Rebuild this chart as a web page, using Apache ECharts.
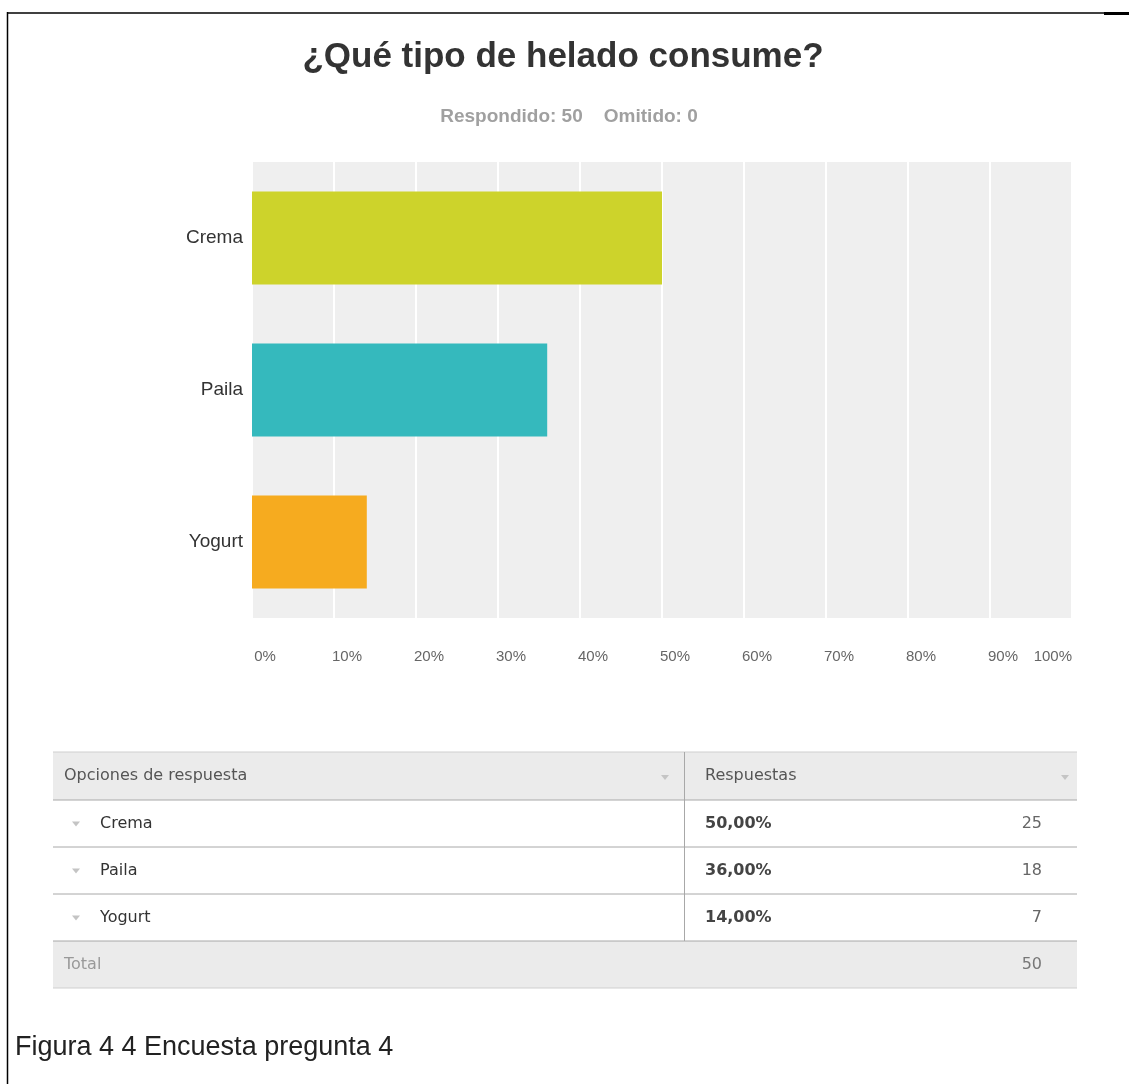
<!DOCTYPE html>
<html>
<head>
<meta charset="utf-8">
<script src="https://cdn.jsdelivr.net/npm/echarts@6/dist/echarts.min.js"></script>
<style>
  html, body { margin: 0; padding: 0; background: #fff; }
  #chart { width: 1129px; height: 1084px; }
</style>
</head>
<body>
<div id="chart"></div>
<script>
// Survey question 4: type of ice cream consumed
const categories = ['Crema', 'Paila', 'Yogurt'];
const percents = [50, 36, 14];
const counts = [25, 18, 7];
const barColors = ['#cdd32b', '#35b9bd', '#f6ab1f'];
const tickLabels = ['0%', '10%', '20%', '30%', '40%', '50%', '60%', '70%', '80%', '90%', '100%'];
const answered = 50;
const skipped = 0;
const totalCount = 50;

const chart = echarts.init(document.getElementById('chart'), null, { renderer: 'canvas' });

// Summary table below the chart
const T = { x0: 53, x1: 1077, xSep: 684, top: 752, rowH: 47, headH: 48 };
const tableFont = '"DejaVu Sans", Verdana, sans-serif';
const graphics = [];

// page frame
graphics.push({ type: 'line', shape: { x1: 7, y1: 13, x2: 1105, y2: 13 }, style: { stroke: '#000', lineWidth: 1.5 } });
graphics.push({ type: 'line', shape: { x1: 1104, y1: 13.5, x2: 1129, y2: 13.5 }, style: { stroke: '#000', lineWidth: 3 } });
graphics.push({ type: 'line', shape: { x1: 7.5, y1: 12, x2: 7.5, y2: 1084 }, style: { stroke: '#000', lineWidth: 1.5 } });

function tri(cx, cy) {
  return { type: 'polygon', shape: { points: [[cx - 4, cy - 2], [cx + 4, cy - 2], [cx, cy + 3]] }, style: { fill: '#c4c4c4' } };
}

// header
const headBottom = T.top + T.headH;
graphics.push({ type: 'rect', shape: { x: T.x0, y: T.top, width: T.x1 - T.x0, height: T.headH }, style: { fill: '#ebebeb' } });
graphics.push({ type: 'text', style: { x: 64, y: T.top + T.headH / 2, text: 'Opciones de respuesta', fill: '#555', font: '16px ' + tableFont, verticalAlign: 'middle' } });
graphics.push({ type: 'text', style: { x: 705, y: T.top + T.headH / 2, text: 'Respuestas', fill: '#555', font: '16px ' + tableFont, verticalAlign: 'middle' } });
graphics.push(tri(665, T.top + T.headH / 2 + 1));
graphics.push(tri(1065, T.top + T.headH / 2 + 1));
graphics.push({ type: 'line', shape: { x1: T.x0, y1: T.top, x2: T.x1, y2: T.top }, style: { stroke: '#cfcfcf', lineWidth: 1 } });

// answer rows
categories.forEach(function (name, i) {
  const y = headBottom + i * T.rowH;
  const cy = y + T.rowH / 2;
  graphics.push({ type: 'line', shape: { x1: T.x0, y1: y, x2: T.x1, y2: y }, style: { stroke: '#a8a8a8', lineWidth: 1 } });
  graphics.push(tri(76, cy));
  graphics.push({ type: 'text', style: { x: 100, y: cy, text: name, fill: '#333', font: '500 16px ' + tableFont, verticalAlign: 'middle' } });
  graphics.push({ type: 'text', style: { x: 705, y: cy, text: percents[i].toFixed(2).replace('.', ',') + '%', fill: '#444', font: 'bold 16px ' + tableFont, verticalAlign: 'middle' } });
  graphics.push({ type: 'text', style: { x: 1042, y: cy, text: String(counts[i]), fill: '#666', font: '16px ' + tableFont, align: 'right', verticalAlign: 'middle' } });
});

// total row
const totTop = headBottom + categories.length * T.rowH;
graphics.push({ type: 'rect', shape: { x: T.x0, y: totTop, width: T.x1 - T.x0, height: T.rowH }, style: { fill: '#ebebeb' } });
graphics.push({ type: 'line', shape: { x1: T.x0, y1: totTop, x2: T.x1, y2: totTop }, style: { stroke: '#a8a8a8', lineWidth: 1 } });
graphics.push({ type: 'line', shape: { x1: T.x0, y1: totTop + T.rowH, x2: T.x1, y2: totTop + T.rowH }, style: { stroke: '#cfcfcf', lineWidth: 1 } });
graphics.push({ type: 'text', style: { x: 64, y: totTop + T.rowH / 2, text: 'Total', fill: '#999', font: '16px ' + tableFont, verticalAlign: 'middle' } });
graphics.push({ type: 'text', style: { x: 1042, y: totTop + T.rowH / 2, text: String(totalCount), fill: '#777', font: '16px ' + tableFont, align: 'right', verticalAlign: 'middle' } });
graphics.push({ type: 'line', shape: { x1: T.xSep + 0.5, y1: T.top, x2: T.xSep + 0.5, y2: totTop }, style: { stroke: '#a8a8a8', lineWidth: 1 } });

// figure caption
graphics.push({ type: 'text', style: { x: 15, y: 1048, text: 'Figura 4 4 Encuesta pregunta 4', fill: '#222', font: '27px "Liberation Sans", Arial, sans-serif', verticalAlign: 'middle' } });

chart.setOption({
  animation: false,
  backgroundColor: '#fff',
  textStyle: { fontFamily: '"Liberation Sans", Arial, sans-serif' },
  title: [
    {
      text: '¿Qué tipo de helado consume?',
      left: 558, top: 35, textAlign: 'center',
      textStyle: { fontSize: 35, fontWeight: 'bold', color: '#333', fontFamily: '"Liberation Sans", Arial, sans-serif' }
    },
    {
      text: 'Respondido: ' + answered + '    Omitido: ' + skipped,
      left: 564, top: 102, textAlign: 'center',
      textStyle: { fontSize: 19, fontWeight: 'bold', color: '#a0a0a0', fontFamily: '"Liberation Sans", Arial, sans-serif' }
    }
  ],
  grid: {
    left: 252, top: 162, width: 820, height: 456,
    show: true, backgroundColor: '#efefef', borderWidth: 0
  },
  xAxis: {
    type: 'value', min: 0, max: 100, interval: 10,
    axisLine: { show: false }, axisTick: { show: false },
    splitLine: { show: true, lineStyle: { color: '#ffffff', width: 2 } },
    axisLabel: {
      formatter: function (v) { return tickLabels[Math.round(v / 10)]; },
      color: '#666', fontSize: 15, margin: 31,
      padding: [0, 0, 0, 26],
      alignMaxLabel: 'right'
    }
  },
  yAxis: {
    type: 'category', data: categories, inverse: true,
    axisLine: { show: false }, axisTick: { show: false },
    axisLabel: { color: '#333', fontSize: 19, margin: 9 }
  },
  series: [{
    type: 'bar',
    barWidth: 93,
    data: percents.map(function (v, i) { return { value: v, itemStyle: { color: barColors[i] } }; }),
    silent: true
  }],
  graphic: graphics
});
</script>
</body>
</html>
